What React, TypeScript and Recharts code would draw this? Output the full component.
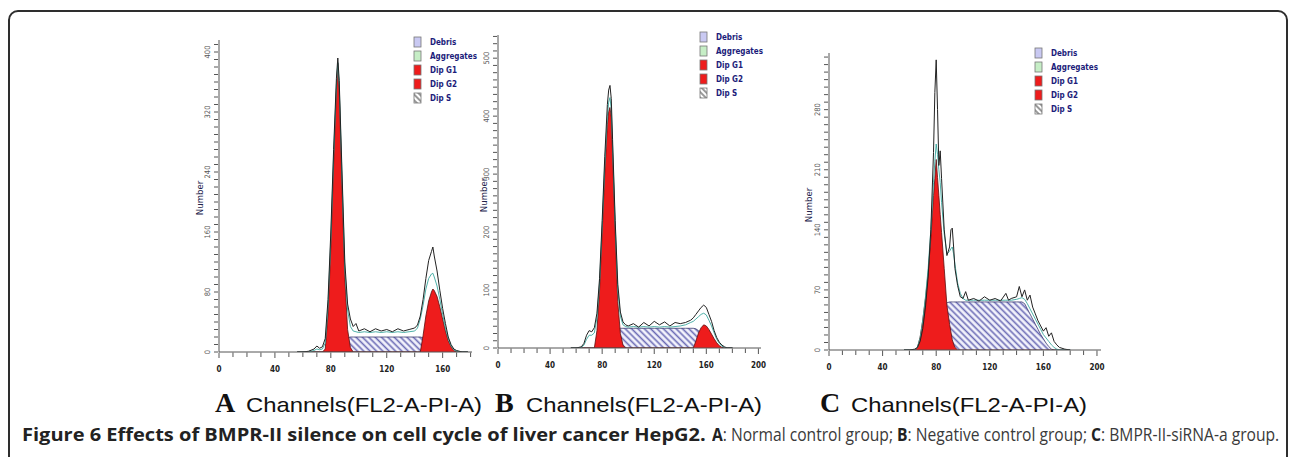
import React, { useLayoutEffect, useRef, useState } from "react";
import { Area, ComposedChart, Line, XAxis, YAxis } from "recharts";

// A: normal control group
const chA = [56, 60, 64, 68, 70, 72, 74, 76, 78, 80, 82, 84, 85, 86, 88, 90, 92, 94, 96, 98, 100, 104, 108, 112, 116, 120, 124, 128, 132, 136, 140, 142, 144, 146, 148, 150, 152, 153, 154, 156, 158, 160, 162, 164, 166, 168, 170, 174, 178];
const rawA = [0, 0, 1, 4, 8, 5, 7, 18, 70, 160, 270, 365, 392, 362, 240, 120, 64, 44, 34, 38, 28, 31, 27, 31, 28, 30, 27, 31, 28, 30, 32, 36, 48, 70, 98, 122, 134, 140, 128, 108, 82, 58, 38, 20, 10, 4, 2, 0, 0];
const fitA = [0, 0, 0, 2, 4, 3, 4, 12, 62, 150, 262, 356, 386, 356, 232, 112, 56, 34, 28, 27, 26, 27, 26, 27, 26, 27, 26, 27, 26, 27, 28, 32, 44, 62, 84, 98, 104, 105, 100, 88, 70, 50, 32, 18, 8, 3, 1, 0, 0];
const g1A = [0, 0, 0, 0, 0, 0, 0, 4, 50, 140, 250, 350, 385, 350, 220, 100, 30, 6, 0, 0, 0, 0, 0, 0, 0, 0, 0, 0, 0, 0, 0, 0, 0, 0, 0, 0, 0, 0, 0, 0, 0, 0, 0, 0, 0, 0, 0, 0, 0];
const g2A = [0, 0, 0, 0, 0, 0, 0, 0, 0, 0, 0, 0, 0, 0, 0, 0, 0, 0, 0, 0, 0, 0, 0, 0, 0, 0, 0, 0, 0, 0, 0, 0, 0, 22, 48, 68, 80, 84, 82, 74, 60, 44, 28, 15, 7, 2, 0, 0, 0];
const sA = [0, 0, 0, 0, 0, 0, 0, 0, 0, 0, 0, 5, 7, 10, 14, 17, 19, 20, 20, 20, 20, 20, 20, 20, 20, 20, 20, 20, 20, 20, 20, 20, 20, 19, 18, 16, 14, 13, 12, 9, 6, 3, 0, 0, 0, 0, 0, 0, 0];
const xLabelsA = [0, 40, 80, 120, 160];
const yLabelsA = [0, 80, 160, 240, 320, 400];

// B: negative control group
const chB = [56, 60, 64, 66, 68, 70, 72, 74, 76, 78, 80, 82, 84, 85, 86, 87, 88, 90, 92, 94, 96, 98, 100, 104, 108, 112, 116, 120, 124, 128, 132, 136, 140, 144, 148, 150, 152, 154, 156, 158, 160, 162, 164, 166, 168, 170, 172, 174, 176, 180];
const rawB = [0, 0, 2, 8, 22, 30, 28, 35, 60, 120, 220, 330, 420, 445, 453, 430, 360, 220, 110, 62, 45, 40, 38, 42, 36, 44, 38, 46, 40, 45, 38, 44, 42, 44, 48, 52, 58, 64, 70, 74, 70, 58, 46, 30, 18, 10, 5, 2, 0, 0];
const fitB = [0, 0, 1, 5, 15, 22, 22, 26, 52, 112, 210, 316, 400, 424, 432, 412, 348, 212, 100, 55, 40, 37, 36, 37, 36, 37, 36, 37, 36, 37, 36, 37, 38, 40, 44, 46, 50, 54, 58, 60, 57, 48, 38, 26, 15, 8, 3, 1, 0, 0];
const g1B = [0, 0, 0, 0, 0, 0, 0, 0, 30, 100, 200, 300, 385, 408, 415, 398, 335, 200, 80, 25, 5, 0, 0, 0, 0, 0, 0, 0, 0, 0, 0, 0, 0, 0, 0, 0, 0, 0, 0, 0, 0, 0, 0, 0, 0, 0, 0, 0, 0, 0];
const g2B = [0, 0, 0, 0, 0, 0, 0, 0, 0, 0, 0, 0, 0, 0, 0, 0, 0, 0, 0, 0, 0, 0, 0, 0, 0, 0, 0, 0, 0, 0, 0, 0, 0, 0, 0, 0, 12, 26, 35, 40, 38, 32, 24, 16, 9, 4, 1, 0, 0, 0];
const sB = [0, 0, 0, 0, 0, 0, 0, 0, 0, 0, 0, 4, 10, 14, 18, 21, 25, 30, 33, 34, 34, 34, 34, 34, 34, 34, 34, 34, 34, 34, 34, 34, 34, 34, 34, 34, 33, 30, 24, 17, 10, 4, 0, 0, 0, 0, 0, 0, 0, 0];
const xLabelsB = [0, 40, 80, 120, 160, 200];
const yLabelsB = [0, 100, 200, 300, 400, 500];

// C: BMPR-II-siRNA-a group
const chC = [56, 60, 64, 66, 68, 70, 72, 74, 76, 78, 79, 80, 81, 82, 83, 84, 86, 88, 90, 91, 92, 93, 94, 96, 98, 100, 102, 104, 108, 112, 116, 120, 124, 128, 132, 134, 136, 140, 142, 144, 146, 148, 150, 152, 154, 156, 158, 160, 162, 164, 166, 168, 170, 172, 176, 180];
const rawC = [0, 0, 1, 3, 10, 25, 50, 85, 140, 230, 300, 338, 280, 215, 232, 200, 140, 110, 120, 140, 142, 120, 95, 75, 62, 60, 68, 58, 60, 57, 62, 58, 60, 57, 66, 58, 60, 62, 74, 62, 70, 58, 64, 50, 42, 34, 28, 22, 26, 16, 20, 10, 6, 3, 1, 0];
const fitC = [0, 0, 0, 3, 14, 35, 62, 95, 140, 195, 220, 240, 228, 210, 195, 172, 135, 112, 115, 118, 120, 112, 100, 78, 66, 60, 58, 58, 58, 58, 58, 58, 58, 58, 58, 58, 58, 59, 60, 61, 59, 54, 48, 42, 36, 30, 24, 18, 14, 10, 6, 3, 1, 0, 0, 0];
const g1C = [0, 0, 0, 3, 15, 35, 60, 90, 130, 180, 200, 222, 201, 180, 158, 137, 95, 52, 30, 21, 12, 7, 3, 0, 0, 0, 0, 0, 0, 0, 0, 0, 0, 0, 0, 0, 0, 0, 0, 0, 0, 0, 0, 0, 0, 0, 0, 0, 0, 0, 0, 0, 0, 0, 0, 0];
const sC = [0, 0, 0, 0, 0, 2, 6, 12, 20, 28, 32, 35, 38, 42, 45, 48, 52, 55, 56, 56, 56, 56, 56, 56, 56, 56, 56, 56, 56, 56, 56, 56, 56, 56, 56, 56, 56, 56, 56, 56, 54, 48, 42, 36, 30, 24, 18, 13, 8, 4, 1, 0, 0, 0, 0, 0];
const xLabelsC = [0, 40, 80, 120, 160, 200];
const yLabelsC = [0, 70, 140, 210, 280];

const legendNames = ["Debris", "Aggregates", "Dip G1", "Dip G2", "Dip S"];
const legendFills = ["#c9c9f2", "#c6eec6", "#ee1c1c", "#ee1c1c", "url(#hatchLegend)"];

const SMALL = '"DejaVu Sans Condensed", "DejaVu Sans", sans-serif';
const Y_W = 40;
const TOP = 4;
const X_H = 26;

type Panel = {
  id: string;
  letter: string;
  ch: number[];
  raw: number[];
  fit: number[];
  g1: number[];
  g2: number[] | null;
  s: number[];
  xLabels: number[];
  yLabels: number[];
  xMax: number;
  yMax: number;
  left: number;
  top: number;
  w: number;
  h: number;
  legend: [number, number];
  number: [number, number];
  title: number;
};

const panels: Panel[] = [
  { id: "A", letter: "A", ch: chA, raw: rawA, fit: fitA, g1: g1A, g2: g2A, s: sA, xLabels: xLabelsA, yLabels: yLabelsA,
    xMax: 181, yMax: 416, left: 219, top: 40, w: 253, h: 312, legend: [414, 42], number: [203, 198], title: 215 },
  { id: "B", letter: "B", ch: chB, raw: rawB, fit: fitB, g1: g1B, g2: g2B, s: sB, xLabels: xLabelsB, yLabels: yLabelsB,
    xMax: 202, yMax: 540, left: 498, top: 35, w: 263, h: 313, legend: [700, 37], number: [487, 195], title: 495 },
  { id: "C", letter: "C", ch: chC, raw: rawC, fit: fitC, g1: g1C, g2: null, s: sC, xLabels: xLabelsC, yLabels: yLabelsC,
    xMax: 203, yMax: 346, left: 829, top: 53, w: 272, h: 297, legend: [1035, 53], number: [812, 205], title: 820 },
];

function minorTicks(labels: number[], div: number, max: number) {
  const step = (labels[1] - labels[0]) / div;
  const out: number[] = [];
  for (let i = 0; i * step <= max; i++) out.push(i * step);
  return out;
}

function XTick(props: any) {
  const { x, y, payload, majors } = props;
  const major = majors.includes(payload.value);
  return (
    <g>
      <line x1={x} x2={x} y1={y - 1.5} y2={y + (major ? 4 : 3)} stroke="#555" />
      {major && (
        <text x={x} y={y + 17.5} textAnchor="middle" fontSize={8} fontWeight="bold" fill="#222" fontFamily={SMALL}>
          {payload.value}
        </text>
      )}
    </g>
  );
}

function YTick(props: any) {
  const { x, y, payload, majors } = props;
  const major = majors.includes(payload.value);
  return (
    <g>
      <line x1={x - 3} x2={x + 1} y1={y} y2={y} stroke="#555" />
      {major && (
        <text transform={`translate(${x - 10},${y}) rotate(-90)`} textAnchor="middle" dy="0.35em" fontSize={7.5} fill="#555" fontFamily={SMALL}>
          {payload.value}
        </text>
      )}
    </g>
  );
}

function Histogram({ p }: { p: Panel }) {
  const rows = p.ch.map((c, i) => ({ ch: c, raw: p.raw[i], fit: p.fit[i], g1: p.g1[i], g2: p.g2 ? p.g2[i] : 0, s: p.s[i] }));
  const width = Y_W + p.w + 6;
  const height = TOP + p.h + X_H;
  return (
    <div style={{ position: "absolute", left: p.left - Y_W, top: p.top - TOP }}>
      <ComposedChart width={width} height={height} data={rows} margin={{ top: TOP, right: 6, left: 0, bottom: 0 }}>
        <defs>
          <pattern id={`hatch${p.id}`} patternUnits="userSpaceOnUse" width={4.5} height={4.5} patternTransform="rotate(-45)">
            <rect width={4.5} height={4.5} fill="#f3f3fc" />
            <line x1={2.25} y1={0} x2={2.25} y2={4.5} stroke="#6a6ab4" strokeWidth={1.6} />
          </pattern>
        </defs>
        <XAxis dataKey="ch" type="number" domain={[0, p.xMax]} allowDataOverflow ticks={minorTicks(p.xLabels, 4, p.xMax)}
          interval={0} tickLine={false} tickSize={0} height={X_H} axisLine={{ stroke: "#555" }} tick={<XTick majors={p.xLabels} />} />
        <YAxis type="number" domain={[0, p.yMax]} allowDataOverflow ticks={minorTicks(p.yLabels, 8, p.yMax)} width={Y_W}
          interval={0} tickLine={false} tickSize={0} axisLine={{ stroke: "#555" }} tick={<YTick majors={p.yLabels} />} />
        <Area type="linear" dataKey="s" fill={`url(#hatch${p.id})`} fillOpacity={1} stroke="#3a3a70" strokeWidth={0.8} isAnimationActive={false} />
        <Area type="linear" dataKey="g1" fill="#ee1c1c" fillOpacity={1} stroke="#5a1010" strokeWidth={0.8} isAnimationActive={false} />
        {p.g2 && <Area type="linear" dataKey="g2" fill="#ee1c1c" fillOpacity={1} stroke="#5a1010" strokeWidth={0.8} isAnimationActive={false} />}
        <Line type="linear" dataKey="fit" stroke="#3aa79e" strokeWidth={0.9} dot={false} isAnimationActive={false} />
        <Line type="linear" dataKey="raw" stroke="#222" strokeWidth={1} dot={false} isAnimationActive={false} />
      </ComposedChart>
    </div>
  );
}

// a one-line text squeezed to the width it has in the figure
function FitText({ left, width, children }: { left: number; width: number; children: React.ReactNode }) {
  const ref = useRef<HTMLDivElement>(null);
  const [k, setK] = useState(1);
  useLayoutEffect(() => {
    if (ref.current) setK(width / ref.current.scrollWidth);
  }, [width]);
  return (
    <div
      ref={ref}
      style={{
        position: "absolute", left, top: 423, whiteSpace: "nowrap", fontFamily: '"Open Sans", sans-serif',
        fontSize: 18, lineHeight: "22px", color: "#3a3a3a", transform: `scaleX(${k})`, transformOrigin: "0 0",
      }}
    >
      {children}
    </div>
  );
}

const bold = { fontWeight: 700, color: "#222" };

export default function App() {
  return (
    <div style={{ position: "relative", width: 1290, height: 457, overflow: "hidden", background: "#fff" }}>
      <style>{`body{margin:0}`}</style>
      <div style={{ position: "absolute", left: 8, top: 10, width: 1276, height: 480, border: "2px solid #2e2e2e", borderRadius: 10 }} />
      {panels.map((p) => (
        <Histogram key={p.id} p={p} />
      ))}
      <svg width={1290} height={457} style={{ position: "absolute", left: 0, top: 0, pointerEvents: "none" }}>
        <defs>
          <pattern id="hatchLegend" patternUnits="userSpaceOnUse" width={4} height={4} patternTransform="rotate(-45)">
            <rect width={4} height={4} fill="#fff" />
            <line x1={2} y1={0} x2={2} y2={4} stroke="#555" strokeWidth={1.2} />
          </pattern>
        </defs>
        {panels.map((p) => (
          <g key={p.id}>
            <text transform={`translate(${p.number[0]},${p.number[1]}) rotate(-90)`} textAnchor="middle" fontSize={9.5} fill="#22224a" fontFamily={SMALL}>
              Number
            </text>
            {legendNames.map((name, i) => (
              <g key={name}>
                <rect x={p.legend[0]} y={p.legend[1] + i * 14 - 5} width={7} height={10} fill={legendFills[i]} stroke="#777" strokeWidth={0.8} />
                <text x={p.legend[0] + 16} y={p.legend[1] + i * 14 + 3} fontSize={8} fontWeight="bold" fill="#1c1c7a" fontFamily={SMALL}>
                  {name}
                </text>
              </g>
            ))}
            <text x={p.title} y={412} fontSize={28} fontWeight="bold" fontFamily='"Liberation Serif", "Times New Roman", serif' fill="#111">
              {p.letter}
            </text>
            <text x={p.title + 31} y={412} fontSize={21} fontFamily='"Liberation Sans", Arial, sans-serif' fill="#111" textLength={236} lengthAdjust="spacingAndGlyphs">
              Channels(FL2-A-PI-A)
            </text>
          </g>
        ))}
      </svg>
      <FitText left={22} width={684}>
        <span style={bold}>Figure 6 Effects of BMPR-II silence on cell cycle of liver cancer HepG2.</span>
      </FitText>
      <FitText left={712} width={567}>
        <span style={bold}>A</span>: Normal control group; <span style={bold}>B</span>: Negative control group; <span style={bold}>C</span>: BMPR-II-siRNA-a group.
      </FitText>
    </div>
  );
}
